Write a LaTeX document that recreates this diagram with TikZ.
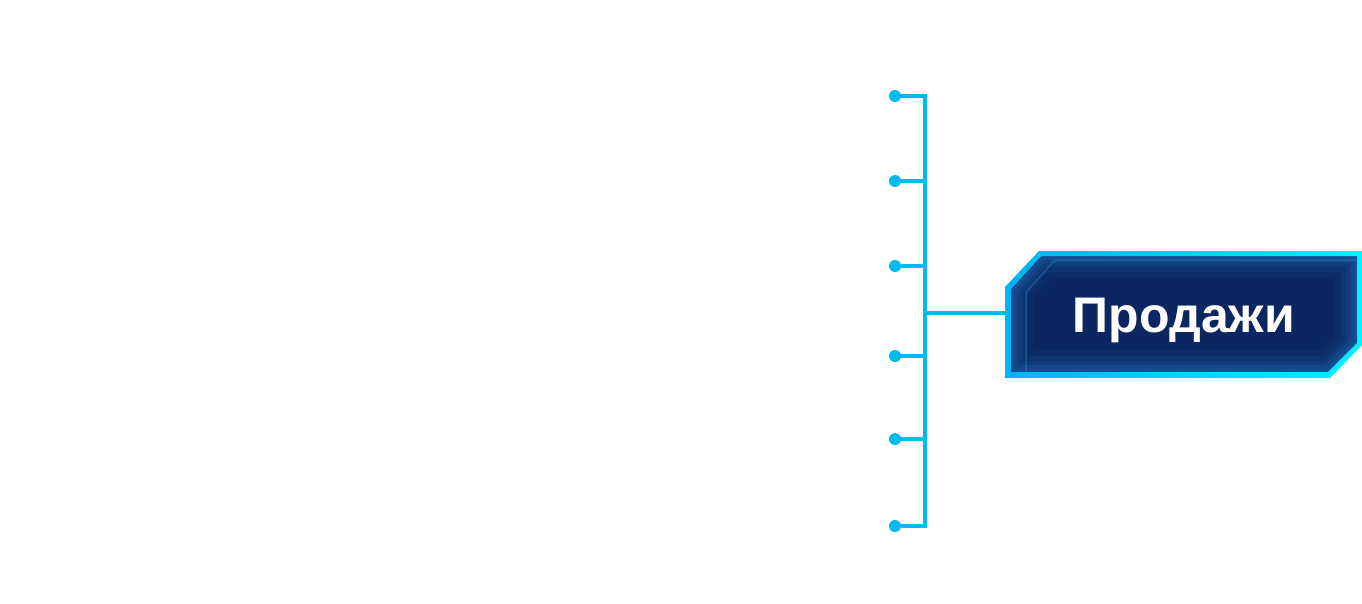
\documentclass[tikz,border=0pt]{standalone}
\usepackage{fontspec}
\setmainfont{Liberation Sans}
\definecolor{wire}{HTML}{00B9F2}
\definecolor{navy}{HTML}{0B2660}
\definecolor{glow}{HTML}{1E64B0}
\definecolor{bordL}{HTML}{00B2F3}
\definecolor{bordR}{HTML}{00F2FF}
\tikzset{
  wireline/.style={draw=wire, line width=3.5pt},
  dotnode/.style={circle, fill=wire, inner sep=0pt, minimum size=12pt},
  labeltext/.style={text=white, font=\bfseries\fontsize{50}{52}\selectfont},
}
\begin{document}
\begin{tikzpicture}[x=1pt,y=-1pt]
\useasboundingbox (0,0) rectangle (1362,603);
\fill[white] (0,0) rectangle (1362,603);
% box
\def\outerpath{(1005,287) -- (1039,251) -- (1362,251) -- (1362,345) -- (1330,378) -- (1005,378) -- cycle}
\def\innerpath{(1011,289) -- (1041,256) -- (1357,256) -- (1357,343) -- (1328,372) -- (1011,372) -- cycle}
\fill[navy] \innerpath;
\begin{scope}
  \clip \innerpath;
  \foreach \w/\o in {44/0.1,32/0.13,22/0.17,14/0.22,7/0.3}{
    \draw[glow, line width=\w pt, opacity=\o] \innerpath;
  }
  \draw[glow!80!cyan, line width=1.5pt, opacity=0.45] (1026,372) -- (1026,292) -- (1055,260) -- (1357,260);
\end{scope}
\begin{scope}[even odd rule]
  \clip \outerpath \innerpath;
  \shade[left color=bordL, right color=bordR] (1000,245) rectangle (1362,385);
\end{scope}
\coordinate (boxL) at (1005,313);
\node[labeltext, anchor=base] (lbl) at (1184,332) {Продажи};
% wires
\coordinate (hub) at (925,313);
\foreach \i/\y in {1/96,2/181,3/266,4/356,5/439,6/526}{
  \node[dotnode] (d\i) at (895,\y) {};
  \coordinate (j\i) at (925,\y);
}
\draw[wireline] (d1.center) -- (j1) -- (j6) -- (d6.center);
\draw[wireline] (hub) -- (boxL);
\foreach \i in {2,3,4,5}{
  \draw[wireline] (d\i.center) -- (j\i);
}
\end{tikzpicture}
\end{document}
